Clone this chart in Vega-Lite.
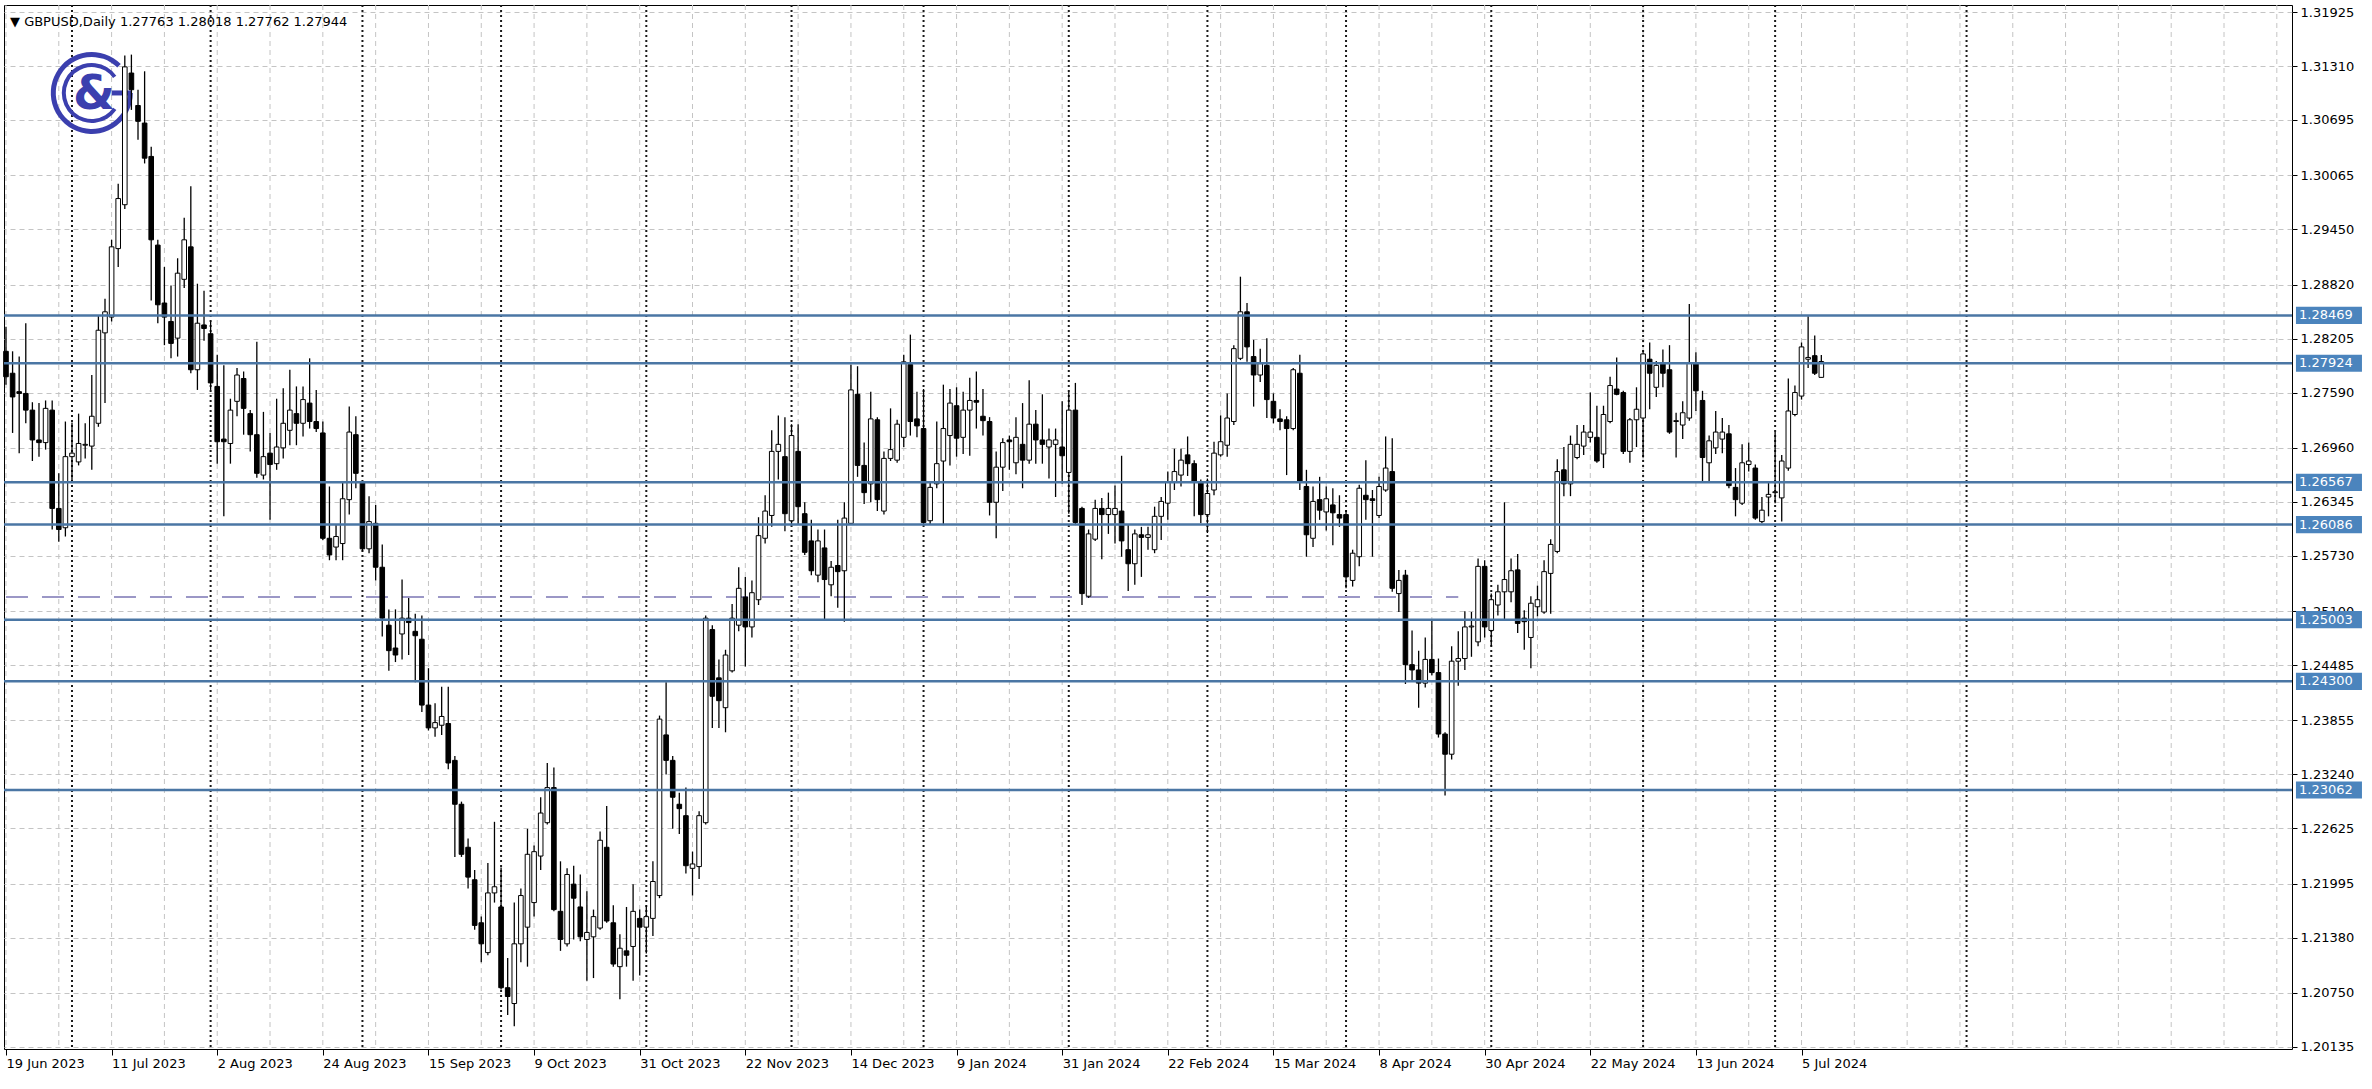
{
  "$schema": "https://vega.github.io/schema/vega-lite/v6.json",
  "width": 2288,
  "height": 1044,
  "autosize": {"type": "none"},
  "padding": {"left": 4, "top": 5, "right": 80, "bottom": 40},
  "background": "#ffffff",
  "config": {
    "view": {"stroke": "#000000", "strokeWidth": 1},
    "font": "DejaVu Sans",
    "axis": {"labelFont": "DejaVu Sans", "labelFontSize": 13, "labelColor": "#000000", "tickColor": "#000000", "domainColor": "#000000"}
  },
  "title": {"text": "▼ GBPUSD,Daily  1.27763 1.28018 1.27762 1.27944", "anchor": "start", "orient": "top", "offset": -35, "dx": 6, "fontSize": 13, "fontWeight": "normal", "font": "DejaVu Sans", "color": "#000000", "baseline": "alphabetic", "frame": "group"},
  "resolve": {"axis": {"x": "independent", "y": "independent"}},
  "datasets": {
    "levels": [{"p": 1.28469}, {"p": 1.27924}, {"p": 1.26567}, {"p": 1.26086}, {"p": 1.25003}, {"p": 1.243}, {"p": 1.23062}],
    "dash": [{"d0": "2023-06-19", "d1": "2024-04-24", "p": 1.2526}],
    "logo": [{"d": "2023-07-06", "p": 1.31003, "g0": "2023-07-11", "g1": "2023-07-14", "t": "&"}],
    "seps": [{"d": "2023-07-03"}, {"d": "2023-08-01"}, {"d": "2023-09-01"}, {"d": "2023-10-02"}, {"d": "2023-11-01"}, {"d": "2023-12-01"}, {"d": "2024-01-02"}, {"d": "2024-02-01"}, {"d": "2024-03-01"}, {"d": "2024-04-01"}, {"d": "2024-05-01"}, {"d": "2024-06-03"}, {"d": "2024-07-01"}, {"d": "2024-08-09"}],
    "vgrid": [{"d": "2023-06-19"}, {"d": "2023-06-29"}, {"d": "2023-07-11"}, {"d": "2023-07-21"}, {"d": "2023-08-02"}, {"d": "2023-08-14"}, {"d": "2023-08-24"}, {"d": "2023-09-05"}, {"d": "2023-09-15"}, {"d": "2023-09-27"}, {"d": "2023-10-09"}, {"d": "2023-10-19"}, {"d": "2023-10-31"}, {"d": "2023-11-10"}, {"d": "2023-11-22"}, {"d": "2023-12-04"}, {"d": "2023-12-14"}, {"d": "2023-12-27"}, {"d": "2024-01-09"}, {"d": "2024-01-19"}, {"d": "2024-01-31"}, {"d": "2024-02-12"}, {"d": "2024-02-22"}, {"d": "2024-03-05"}, {"d": "2024-03-15"}, {"d": "2024-03-27"}, {"d": "2024-04-08"}, {"d": "2024-04-18"}, {"d": "2024-04-30"}, {"d": "2024-05-10"}, {"d": "2024-05-22"}, {"d": "2024-06-03"}, {"d": "2024-06-13"}, {"d": "2024-06-25"}, {"d": "2024-07-05"}, {"d": "2024-07-17"}, {"d": "2024-07-29"}, {"d": "2024-08-08"}, {"d": "2024-08-20"}, {"d": "2024-08-30"}, {"d": "2024-09-11"}, {"d": "2024-09-23"}, {"d": "2024-10-03"}, {"d": "2024-10-15"}],
    "ohlc": [
      {"d":"2023-06-19","o":1.2806,"h":1.2834,"l":1.2768,"c":1.2777},
      {"d":"2023-06-20","o":1.2781,"h":1.2806,"l":1.2713,"c":1.2754},
      {"d":"2023-06-21","o":1.2760,"h":1.2800,"l":1.2690,"c":1.2758},
      {"d":"2023-06-22","o":1.2758,"h":1.2838,"l":1.2724,"c":1.2739},
      {"d":"2023-06-23","o":1.2739,"h":1.2748,"l":1.2681,"c":1.2705},
      {"d":"2023-06-26","o":1.2705,"h":1.2747,"l":1.2686,"c":1.2702},
      {"d":"2023-06-27","o":1.2702,"h":1.2750,"l":1.2694,"c":1.2741},
      {"d":"2023-06-28","o":1.2739,"h":1.2750,"l":1.2603,"c":1.2627},
      {"d":"2023-06-29","o":1.2627,"h":1.2667,"l":1.2589,"c":1.2603},
      {"d":"2023-06-30","o":1.2605,"h":1.2726,"l":1.2595,"c":1.2686},
      {"d":"2023-07-03","o":1.2686,"h":1.2725,"l":1.2656,"c":1.2690},
      {"d":"2023-07-04","o":1.2680,"h":1.2735,"l":1.2676,"c":1.2701},
      {"d":"2023-07-05","o":1.2699,"h":1.2724,"l":1.2684,"c":1.2700},
      {"d":"2023-07-06","o":1.2698,"h":1.2779,"l":1.2671,"c":1.2732},
      {"d":"2023-07-07","o":1.2724,"h":1.2847,"l":1.2720,"c":1.2830},
      {"d":"2023-07-10","o":1.2827,"h":1.2866,"l":1.2747,"c":1.2851},
      {"d":"2023-07-11","o":1.2845,"h":1.2933,"l":1.2840,"c":1.2925},
      {"d":"2023-07-12","o":1.2923,"h":1.2997,"l":1.2902,"c":1.2980},
      {"d":"2023-07-13","o":1.2973,"h":1.3143,"l":1.2968,"c":1.3130},
      {"d":"2023-07-14","o":1.3123,"h":1.3144,"l":1.3081,"c":1.3104},
      {"d":"2023-07-17","o":1.3086,"h":1.3104,"l":1.3047,"c":1.3068},
      {"d":"2023-07-18","o":1.3066,"h":1.3125,"l":1.3020,"c":1.3026},
      {"d":"2023-07-19","o":1.3028,"h":1.3039,"l":1.2864,"c":1.2933},
      {"d":"2023-07-20","o":1.2927,"h":1.2933,"l":1.2838,"c":1.2859},
      {"d":"2023-07-21","o":1.2861,"h":1.2902,"l":1.2813,"c":1.2845},
      {"d":"2023-07-24","o":1.2840,"h":1.2881,"l":1.2798,"c":1.2815},
      {"d":"2023-07-25","o":1.2821,"h":1.2912,"l":1.2800,"c":1.2895},
      {"d":"2023-07-26","o":1.2888,"h":1.2958,"l":1.2878,"c":1.2933},
      {"d":"2023-07-27","o":1.2925,"h":1.2994,"l":1.2781,"c":1.2785},
      {"d":"2023-07-28","o":1.2785,"h":1.2883,"l":1.2762,"c":1.2838},
      {"d":"2023-07-31","o":1.2836,"h":1.2875,"l":1.2818,"c":1.2832},
      {"d":"2023-08-01","o":1.2826,"h":1.2840,"l":1.2762,"c":1.2770},
      {"d":"2023-08-02","o":1.2766,"h":1.2802,"l":1.2678,"c":1.2703},
      {"d":"2023-08-03","o":1.2706,"h":1.2790,"l":1.2618,"c":1.2703},
      {"d":"2023-08-04","o":1.2701,"h":1.2752,"l":1.2678,"c":1.2739},
      {"d":"2023-08-07","o":1.2749,"h":1.2787,"l":1.2732,"c":1.2779},
      {"d":"2023-08-08","o":1.2775,"h":1.2783,"l":1.2711,"c":1.2741},
      {"d":"2023-08-09","o":1.2735,"h":1.2739,"l":1.2692,"c":1.2711},
      {"d":"2023-08-10","o":1.2711,"h":1.2817,"l":1.2662,"c":1.2667},
      {"d":"2023-08-11","o":1.2665,"h":1.2737,"l":1.2660,"c":1.2686},
      {"d":"2023-08-14","o":1.2690,"h":1.2713,"l":1.2614,"c":1.2677},
      {"d":"2023-08-15","o":1.2678,"h":1.2752,"l":1.2671,"c":1.2697},
      {"d":"2023-08-16","o":1.2696,"h":1.2764,"l":1.2684,"c":1.2724},
      {"d":"2023-08-17","o":1.2716,"h":1.2785,"l":1.2699,"c":1.2739},
      {"d":"2023-08-18","o":1.2735,"h":1.2766,"l":1.2699,"c":1.2724},
      {"d":"2023-08-21","o":1.2724,"h":1.2766,"l":1.2709,"c":1.2751},
      {"d":"2023-08-22","o":1.2747,"h":1.2798,"l":1.2718,"c":1.2726},
      {"d":"2023-08-23","o":1.2726,"h":1.2762,"l":1.2714,"c":1.2718},
      {"d":"2023-08-24","o":1.2713,"h":1.2726,"l":1.2591,"c":1.2593},
      {"d":"2023-08-25","o":1.2593,"h":1.2652,"l":1.2568,"c":1.2574},
      {"d":"2023-08-28","o":1.2583,"h":1.2608,"l":1.2568,"c":1.2595},
      {"d":"2023-08-29","o":1.2587,"h":1.2656,"l":1.2568,"c":1.2638},
      {"d":"2023-08-30","o":1.2637,"h":1.2743,"l":1.2620,"c":1.2714},
      {"d":"2023-08-31","o":1.2711,"h":1.2732,"l":1.2650,"c":1.2667},
      {"d":"2023-09-01","o":1.2656,"h":1.2658,"l":1.2578,"c":1.2581},
      {"d":"2023-09-04","o":1.2581,"h":1.2641,"l":1.2576,"c":1.2612},
      {"d":"2023-09-05","o":1.2610,"h":1.2631,"l":1.2545,"c":1.2560},
      {"d":"2023-09-06","o":1.2560,"h":1.2586,"l":1.2481,"c":1.2502},
      {"d":"2023-09-07","o":1.2494,"h":1.2512,"l":1.2442,"c":1.2465},
      {"d":"2023-09-08","o":1.2468,"h":1.2512,"l":1.2452,"c":1.2460},
      {"d":"2023-09-11","o":1.2484,"h":1.2546,"l":1.2455,"c":1.2502},
      {"d":"2023-09-12","o":1.2502,"h":1.2525,"l":1.2460,"c":1.2497},
      {"d":"2023-09-13","o":1.2487,"h":1.2507,"l":1.2429,"c":1.2482},
      {"d":"2023-09-14","o":1.2478,"h":1.2505,"l":1.2395,"c":1.2403},
      {"d":"2023-09-15","o":1.2403,"h":1.2445,"l":1.2374,"c":1.2377},
      {"d":"2023-09-18","o":1.2377,"h":1.2405,"l":1.2367,"c":1.2383},
      {"d":"2023-09-19","o":1.2380,"h":1.2424,"l":1.2369,"c":1.2390},
      {"d":"2023-09-20","o":1.2382,"h":1.2424,"l":1.2330,"c":1.2337},
      {"d":"2023-09-21","o":1.2340,"h":1.2345,"l":1.2230,"c":1.2290},
      {"d":"2023-09-22","o":1.2290,"h":1.2293,"l":1.2230,"c":1.2233},
      {"d":"2023-09-25","o":1.2241,"h":1.2251,"l":1.2194,"c":1.2207},
      {"d":"2023-09-26","o":1.2204,"h":1.2215,"l":1.2147,"c":1.2152},
      {"d":"2023-09-27","o":1.2155,"h":1.2162,"l":1.2110,"c":1.2131},
      {"d":"2023-09-28","o":1.2121,"h":1.2223,"l":1.2118,"c":1.2189},
      {"d":"2023-09-29","o":1.2189,"h":1.2270,"l":1.2178,"c":1.2196},
      {"d":"2023-10-02","o":1.2173,"h":1.2218,"l":1.2079,"c":1.2081},
      {"d":"2023-10-03","o":1.2081,"h":1.2115,"l":1.2050,"c":1.2071},
      {"d":"2023-10-04","o":1.2063,"h":1.2178,"l":1.2037,"c":1.2131},
      {"d":"2023-10-05","o":1.2131,"h":1.2194,"l":1.2110,"c":1.2186},
      {"d":"2023-10-06","o":1.2150,"h":1.2262,"l":1.2105,"c":1.2233},
      {"d":"2023-10-09","o":1.2178,"h":1.2243,"l":1.2162,"c":1.2236},
      {"d":"2023-10-10","o":1.2231,"h":1.2298,"l":1.2215,"c":1.2280},
      {"d":"2023-10-11","o":1.2269,"h":1.2337,"l":1.2267,"c":1.2309},
      {"d":"2023-10-12","o":1.2309,"h":1.2332,"l":1.2168,"c":1.2170},
      {"d":"2023-10-13","o":1.2168,"h":1.2225,"l":1.2123,"c":1.2136},
      {"d":"2023-10-16","o":1.2131,"h":1.2217,"l":1.2128,"c":1.2210},
      {"d":"2023-10-17","o":1.2199,"h":1.2220,"l":1.2136,"c":1.2183},
      {"d":"2023-10-18","o":1.2173,"h":1.2210,"l":1.2134,"c":1.2139},
      {"d":"2023-10-19","o":1.2136,"h":1.2191,"l":1.2089,"c":1.2144},
      {"d":"2023-10-20","o":1.2139,"h":1.2170,"l":1.2092,"c":1.2162},
      {"d":"2023-10-23","o":1.2149,"h":1.2259,"l":1.2147,"c":1.2249},
      {"d":"2023-10-24","o":1.2241,"h":1.2288,"l":1.2155,"c":1.2157},
      {"d":"2023-10-25","o":1.2155,"h":1.2175,"l":1.2105,"c":1.2108},
      {"d":"2023-10-26","o":1.2105,"h":1.2142,"l":1.2068,"c":1.2126},
      {"d":"2023-10-27","o":1.2123,"h":1.2173,"l":1.2105,"c":1.2118},
      {"d":"2023-10-30","o":1.2128,"h":1.2199,"l":1.2089,"c":1.2168},
      {"d":"2023-10-31","o":1.2160,"h":1.2170,"l":1.2095,"c":1.2150},
      {"d":"2023-11-01","o":1.2150,"h":1.2175,"l":1.2120,"c":1.2162},
      {"d":"2023-11-02","o":1.2160,"h":1.2225,"l":1.2140,"c":1.2202},
      {"d":"2023-11-03","o":1.2186,"h":1.2391,"l":1.2183,"c":1.2387},
      {"d":"2023-11-06","o":1.2369,"h":1.2429,"l":1.2324,"c":1.2340},
      {"d":"2023-11-07","o":1.2340,"h":1.2345,"l":1.2262,"c":1.2298},
      {"d":"2023-11-08","o":1.2290,"h":1.2303,"l":1.2256,"c":1.2285},
      {"d":"2023-11-09","o":1.2277,"h":1.2309,"l":1.2211,"c":1.2220},
      {"d":"2023-11-10","o":1.2217,"h":1.2236,"l":1.2186,"c":1.2222},
      {"d":"2023-11-13","o":1.2219,"h":1.2282,"l":1.2205,"c":1.2277},
      {"d":"2023-11-14","o":1.2269,"h":1.2505,"l":1.2267,"c":1.2502},
      {"d":"2023-11-15","o":1.2489,"h":1.2494,"l":1.2377,"c":1.2413},
      {"d":"2023-11-16","o":1.2434,"h":1.2455,"l":1.2377,"c":1.2408},
      {"d":"2023-11-17","o":1.2400,"h":1.2466,"l":1.2372,"c":1.2460},
      {"d":"2023-11-20","o":1.2442,"h":1.2518,"l":1.2440,"c":1.2502},
      {"d":"2023-11-21","o":1.2494,"h":1.2560,"l":1.2487,"c":1.2536},
      {"d":"2023-11-22","o":1.2526,"h":1.2549,"l":1.2447,"c":1.2492},
      {"d":"2023-11-23","o":1.2492,"h":1.2545,"l":1.2480,"c":1.2531},
      {"d":"2023-11-24","o":1.2523,"h":1.2617,"l":1.2517,"c":1.2596},
      {"d":"2023-11-27","o":1.2593,"h":1.2642,"l":1.2587,"c":1.2624},
      {"d":"2023-11-28","o":1.2619,"h":1.2716,"l":1.2606,"c":1.2692},
      {"d":"2023-11-29","o":1.2692,"h":1.2733,"l":1.2660,"c":1.2700},
      {"d":"2023-11-30","o":1.2686,"h":1.2731,"l":1.2601,"c":1.2621},
      {"d":"2023-12-01","o":1.2613,"h":1.2723,"l":1.2608,"c":1.2710},
      {"d":"2023-12-04","o":1.2692,"h":1.2723,"l":1.2608,"c":1.2629},
      {"d":"2023-12-05","o":1.2621,"h":1.2634,"l":1.2574,"c":1.2577},
      {"d":"2023-12-06","o":1.2590,"h":1.2614,"l":1.2551,"c":1.2556},
      {"d":"2023-12-07","o":1.2551,"h":1.2603,"l":1.2543,"c":1.2590},
      {"d":"2023-12-08","o":1.2582,"h":1.2603,"l":1.2501,"c":1.2546},
      {"d":"2023-12-11","o":1.2540,"h":1.2567,"l":1.2527,"c":1.2560},
      {"d":"2023-12-12","o":1.2562,"h":1.2614,"l":1.2514,"c":1.2555},
      {"d":"2023-12-13","o":1.2556,"h":1.2634,"l":1.2498,"c":1.2616},
      {"d":"2023-12-14","o":1.2610,"h":1.2791,"l":1.2608,"c":1.2762},
      {"d":"2023-12-15","o":1.2757,"h":1.2789,"l":1.2663,"c":1.2676},
      {"d":"2023-12-18","o":1.2676,"h":1.2702,"l":1.2632,"c":1.2645},
      {"d":"2023-12-19","o":1.2655,"h":1.2760,"l":1.2634,"c":1.2729},
      {"d":"2023-12-20","o":1.2728,"h":1.2731,"l":1.2624,"c":1.2637},
      {"d":"2023-12-21","o":1.2624,"h":1.2692,"l":1.2620,"c":1.2684},
      {"d":"2023-12-22","o":1.2684,"h":1.2741,"l":1.2681,"c":1.2694},
      {"d":"2023-12-26","o":1.2682,"h":1.2728,"l":1.2679,"c":1.2723},
      {"d":"2023-12-27","o":1.2708,"h":1.2802,"l":1.2697,"c":1.2794},
      {"d":"2023-12-28","o":1.2791,"h":1.2825,"l":1.2710,"c":1.2726},
      {"d":"2023-12-29","o":1.2729,"h":1.2760,"l":1.2708,"c":1.2721},
      {"d":"2024-01-02","o":1.2718,"h":1.2763,"l":1.2608,"c":1.2611},
      {"d":"2024-01-03","o":1.2613,"h":1.2656,"l":1.2608,"c":1.2651},
      {"d":"2024-01-04","o":1.2655,"h":1.2726,"l":1.2650,"c":1.2678},
      {"d":"2024-01-05","o":1.2681,"h":1.2768,"l":1.2608,"c":1.2718},
      {"d":"2024-01-08","o":1.2710,"h":1.2763,"l":1.2676,"c":1.2747},
      {"d":"2024-01-09","o":1.2744,"h":1.2765,"l":1.2686,"c":1.2707},
      {"d":"2024-01-10","o":1.2708,"h":1.2760,"l":1.2689,"c":1.2739},
      {"d":"2024-01-11","o":1.2739,"h":1.2776,"l":1.2687,"c":1.2750},
      {"d":"2024-01-12","o":1.2750,"h":1.2783,"l":1.2718,"c":1.2748},
      {"d":"2024-01-15","o":1.2732,"h":1.2763,"l":1.2710,"c":1.2727},
      {"d":"2024-01-16","o":1.2726,"h":1.2731,"l":1.2619,"c":1.2634},
      {"d":"2024-01-17","o":1.2634,"h":1.2692,"l":1.2593,"c":1.2674},
      {"d":"2024-01-18","o":1.2674,"h":1.2707,"l":1.2647,"c":1.2702},
      {"d":"2024-01-19","o":1.2705,"h":1.2710,"l":1.2671,"c":1.2703},
      {"d":"2024-01-22","o":1.2679,"h":1.2731,"l":1.2666,"c":1.2708},
      {"d":"2024-01-23","o":1.2700,"h":1.2747,"l":1.2650,"c":1.2682},
      {"d":"2024-01-24","o":1.2682,"h":1.2773,"l":1.2678,"c":1.2723},
      {"d":"2024-01-25","o":1.2723,"h":1.2739,"l":1.2678,"c":1.2705},
      {"d":"2024-01-26","o":1.2705,"h":1.2757,"l":1.2678,"c":1.2700},
      {"d":"2024-01-29","o":1.2697,"h":1.2718,"l":1.2661,"c":1.2705},
      {"d":"2024-01-30","o":1.2700,"h":1.2718,"l":1.2640,"c":1.2705},
      {"d":"2024-01-31","o":1.2697,"h":1.2749,"l":1.2655,"c":1.2687},
      {"d":"2024-02-01","o":1.2668,"h":1.2760,"l":1.2621,"c":1.2739},
      {"d":"2024-02-02","o":1.2739,"h":1.2770,"l":1.2608,"c":1.2611},
      {"d":"2024-02-05","o":1.2627,"h":1.2629,"l":1.2517,"c":1.2530},
      {"d":"2024-02-06","o":1.2527,"h":1.2603,"l":1.2525,"c":1.2598},
      {"d":"2024-02-07","o":1.2592,"h":1.2637,"l":1.2590,"c":1.2627},
      {"d":"2024-02-08","o":1.2627,"h":1.2639,"l":1.2569,"c":1.2620},
      {"d":"2024-02-09","o":1.2620,"h":1.2645,"l":1.2598,"c":1.2627},
      {"d":"2024-02-12","o":1.2620,"h":1.2653,"l":1.2587,"c":1.2627},
      {"d":"2024-02-13","o":1.2624,"h":1.2687,"l":1.2572,"c":1.2590},
      {"d":"2024-02-14","o":1.2580,"h":1.2608,"l":1.2533,"c":1.2564},
      {"d":"2024-02-15","o":1.2564,"h":1.2603,"l":1.2540,"c":1.2598},
      {"d":"2024-02-16","o":1.2597,"h":1.2606,"l":1.2549,"c":1.2594},
      {"d":"2024-02-19","o":1.2594,"h":1.2606,"l":1.2580,"c":1.2597},
      {"d":"2024-02-20","o":1.2580,"h":1.2629,"l":1.2576,"c":1.2618},
      {"d":"2024-02-21","o":1.2618,"h":1.2640,"l":1.2591,"c":1.2635},
      {"d":"2024-02-22","o":1.2633,"h":1.2669,"l":1.2614,"c":1.2657},
      {"d":"2024-02-23","o":1.2657,"h":1.2695,"l":1.2648,"c":1.2669},
      {"d":"2024-02-26","o":1.2665,"h":1.2695,"l":1.2652,"c":1.2682},
      {"d":"2024-02-27","o":1.2688,"h":1.2709,"l":1.2664,"c":1.2678},
      {"d":"2024-02-28","o":1.2678,"h":1.2682,"l":1.2618,"c":1.2658},
      {"d":"2024-02-29","o":1.2656,"h":1.2660,"l":1.2610,"c":1.2620},
      {"d":"2024-03-01","o":1.2620,"h":1.2661,"l":1.2599,"c":1.2644},
      {"d":"2024-03-04","o":1.2648,"h":1.2703,"l":1.2642,"c":1.2690},
      {"d":"2024-03-05","o":1.2688,"h":1.2733,"l":1.2686,"c":1.2703},
      {"d":"2024-03-06","o":1.2699,"h":1.2758,"l":1.2686,"c":1.2730},
      {"d":"2024-03-07","o":1.2726,"h":1.2813,"l":1.2722,"c":1.2809},
      {"d":"2024-03-08","o":1.2798,"h":1.2891,"l":1.2796,"c":1.2851},
      {"d":"2024-03-11","o":1.2851,"h":1.2861,"l":1.2794,"c":1.2811},
      {"d":"2024-03-12","o":1.2800,"h":1.2819,"l":1.2743,"c":1.2779},
      {"d":"2024-03-13","o":1.2779,"h":1.2809,"l":1.2771,"c":1.2792},
      {"d":"2024-03-14","o":1.2790,"h":1.2821,"l":1.2730,"c":1.2751},
      {"d":"2024-03-15","o":1.2749,"h":1.2758,"l":1.2724,"c":1.2730},
      {"d":"2024-03-18","o":1.2729,"h":1.2740,"l":1.2716,"c":1.2726},
      {"d":"2024-03-19","o":1.2728,"h":1.2732,"l":1.2665,"c":1.2718},
      {"d":"2024-03-20","o":1.2718,"h":1.2787,"l":1.2716,"c":1.2785},
      {"d":"2024-03-21","o":1.2781,"h":1.2802,"l":1.2648,"c":1.2658},
      {"d":"2024-03-22","o":1.2652,"h":1.2671,"l":1.2572,"c":1.2597},
      {"d":"2024-03-25","o":1.2593,"h":1.2652,"l":1.2583,"c":1.2635},
      {"d":"2024-03-26","o":1.2637,"h":1.2663,"l":1.2614,"c":1.2625},
      {"d":"2024-03-27","o":1.2623,"h":1.2652,"l":1.2602,"c":1.2638},
      {"d":"2024-03-28","o":1.2631,"h":1.2650,"l":1.2585,"c":1.2622},
      {"d":"2024-03-29","o":1.2620,"h":1.2642,"l":1.2606,"c":1.2616},
      {"d":"2024-04-01","o":1.2620,"h":1.2625,"l":1.2536,"c":1.2549},
      {"d":"2024-04-02","o":1.2545,"h":1.2580,"l":1.2538,"c":1.2576},
      {"d":"2024-04-03","o":1.2572,"h":1.2654,"l":1.2561,"c":1.2650},
      {"d":"2024-04-04","o":1.2642,"h":1.2682,"l":1.2614,"c":1.2637},
      {"d":"2024-04-05","o":1.2638,"h":1.2648,"l":1.2572,"c":1.2636},
      {"d":"2024-04-08","o":1.2619,"h":1.2663,"l":1.2616,"c":1.2652},
      {"d":"2024-04-09","o":1.2648,"h":1.2709,"l":1.2646,"c":1.2673},
      {"d":"2024-04-10","o":1.2669,"h":1.2707,"l":1.2532,"c":1.2536},
      {"d":"2024-04-11","o":1.2530,"h":1.2557,"l":1.2509,"c":1.2545},
      {"d":"2024-04-12","o":1.2551,"h":1.2557,"l":1.2427,"c":1.2449},
      {"d":"2024-04-15","o":1.2449,"h":1.2488,"l":1.2430,"c":1.2443},
      {"d":"2024-04-16","o":1.2443,"h":1.2465,"l":1.2400,"c":1.2428},
      {"d":"2024-04-17","o":1.2428,"h":1.2480,"l":1.2423,"c":1.2455},
      {"d":"2024-04-18","o":1.2455,"h":1.2500,"l":1.2437,"c":1.2440},
      {"d":"2024-04-19","o":1.2440,"h":1.2456,"l":1.2366,"c":1.2370},
      {"d":"2024-04-22","o":1.2370,"h":1.2372,"l":1.2300,"c":1.2347},
      {"d":"2024-04-23","o":1.2347,"h":1.2470,"l":1.2341,"c":1.2453},
      {"d":"2024-04-24","o":1.2453,"h":1.2487,"l":1.2425,"c":1.2456},
      {"d":"2024-04-25","o":1.2456,"h":1.2510,"l":1.2443,"c":1.2492},
      {"d":"2024-04-26","o":1.2492,"h":1.2509,"l":1.2458,"c":1.2493},
      {"d":"2024-04-29","o":1.2475,"h":1.2570,"l":1.2470,"c":1.2561},
      {"d":"2024-04-30","o":1.2561,"h":1.2568,"l":1.2480,"c":1.2492},
      {"d":"2024-05-01","o":1.2488,"h":1.2530,"l":1.2470,"c":1.2523},
      {"d":"2024-05-02","o":1.2517,"h":1.2540,"l":1.2505,"c":1.2532},
      {"d":"2024-05-03","o":1.2532,"h":1.2634,"l":1.2500,"c":1.2546},
      {"d":"2024-05-06","o":1.2532,"h":1.2570,"l":1.2520,"c":1.2556},
      {"d":"2024-05-07","o":1.2557,"h":1.2575,"l":1.2485,"c":1.2496},
      {"d":"2024-05-08","o":1.2502,"h":1.2511,"l":1.2466,"c":1.2498},
      {"d":"2024-05-09","o":1.2480,"h":1.2527,"l":1.2445,"c":1.2519},
      {"d":"2024-05-10","o":1.2515,"h":1.2539,"l":1.2504,"c":1.2523},
      {"d":"2024-05-13","o":1.2509,"h":1.2568,"l":1.2507,"c":1.2555},
      {"d":"2024-05-14","o":1.2553,"h":1.2592,"l":1.2507,"c":1.2586},
      {"d":"2024-05-15","o":1.2578,"h":1.2683,"l":1.2576,"c":1.2669},
      {"d":"2024-05-16","o":1.2671,"h":1.2697,"l":1.2641,"c":1.2655},
      {"d":"2024-05-17","o":1.2655,"h":1.2710,"l":1.2641,"c":1.2700},
      {"d":"2024-05-20","o":1.2685,"h":1.2722,"l":1.2683,"c":1.2700},
      {"d":"2024-05-21","o":1.2698,"h":1.2722,"l":1.2688,"c":1.2714},
      {"d":"2024-05-22","o":1.2708,"h":1.2759,"l":1.2702,"c":1.2714},
      {"d":"2024-05-23","o":1.2708,"h":1.2744,"l":1.2679,"c":1.2681},
      {"d":"2024-05-24","o":1.2689,"h":1.2744,"l":1.2673,"c":1.2734},
      {"d":"2024-05-27","o":1.2726,"h":1.2777,"l":1.2724,"c":1.2767},
      {"d":"2024-05-28","o":1.2763,"h":1.2799,"l":1.2756,"c":1.2757},
      {"d":"2024-05-29","o":1.2759,"h":1.2761,"l":1.2689,"c":1.2692},
      {"d":"2024-05-30","o":1.2692,"h":1.2730,"l":1.2679,"c":1.2728},
      {"d":"2024-05-31","o":1.2728,"h":1.2765,"l":1.2697,"c":1.2740},
      {"d":"2024-06-03","o":1.2730,"h":1.2807,"l":1.2685,"c":1.2803},
      {"d":"2024-06-04","o":1.2797,"h":1.2816,"l":1.2740,"c":1.2781},
      {"d":"2024-06-05","o":1.2765,"h":1.2795,"l":1.2754,"c":1.2790},
      {"d":"2024-06-06","o":1.2793,"h":1.2808,"l":1.2765,"c":1.2781},
      {"d":"2024-06-07","o":1.2785,"h":1.2813,"l":1.2712,"c":1.2714},
      {"d":"2024-06-10","o":1.2726,"h":1.2736,"l":1.2685,"c":1.2727},
      {"d":"2024-06-11","o":1.2722,"h":1.2749,"l":1.2706,"c":1.2736},
      {"d":"2024-06-12","o":1.2730,"h":1.2860,"l":1.2727,"c":1.2793},
      {"d":"2024-06-13","o":1.2793,"h":1.2805,"l":1.2738,"c":1.2761},
      {"d":"2024-06-14","o":1.2750,"h":1.2761,"l":1.2657,"c":1.2685},
      {"d":"2024-06-17","o":1.2679,"h":1.2710,"l":1.2657,"c":1.2704},
      {"d":"2024-06-18","o":1.2696,"h":1.2738,"l":1.2689,"c":1.2714},
      {"d":"2024-06-19","o":1.2706,"h":1.2730,"l":1.2690,"c":1.2714},
      {"d":"2024-06-20","o":1.2712,"h":1.2722,"l":1.2650,"c":1.2653},
      {"d":"2024-06-21","o":1.2651,"h":1.2673,"l":1.2618,"c":1.2637},
      {"d":"2024-06-24","o":1.2633,"h":1.2700,"l":1.2631,"c":1.2679},
      {"d":"2024-06-25","o":1.2677,"h":1.2702,"l":1.2669,"c":1.2681},
      {"d":"2024-06-26","o":1.2673,"h":1.2677,"l":1.2614,"c":1.2616},
      {"d":"2024-06-27","o":1.2612,"h":1.2640,"l":1.2610,"c":1.2625},
      {"d":"2024-06-28","o":1.2640,"h":1.2657,"l":1.2618,"c":1.2643},
      {"d":"2024-07-01","o":1.2645,"h":1.2714,"l":1.2633,"c":1.2646},
      {"d":"2024-07-02","o":1.2639,"h":1.2688,"l":1.2612,"c":1.2681},
      {"d":"2024-07-03","o":1.2673,"h":1.2775,"l":1.2670,"c":1.2738},
      {"d":"2024-07-04","o":1.2734,"h":1.2767,"l":1.2732,"c":1.2759},
      {"d":"2024-07-05","o":1.2755,"h":1.2816,"l":1.2751,"c":1.2811},
      {"d":"2024-07-08","o":1.2797,"h":1.2846,"l":1.2787,"c":1.2799},
      {"d":"2024-07-09","o":1.2801,"h":1.2824,"l":1.2779,"c":1.2781},
      {"d":"2024-07-10","o":1.27763,"h":1.28018,"l":1.27762,"c":1.27944}
    ]
  },
  "layer": [
    {
      "data": {"name": "vgrid"},
      "mark": {"type": "rule", "color": "#c4c4c4", "strokeWidth": 1, "strokeDash": [5, 4]},
      "encoding": {"x": {"field": "d", "type": "ordinal", "axis": null}}
    },
    {
      "data": {"name": "seps"},
      "mark": {"type": "rule", "color": "#1a1a1a", "strokeWidth": 2, "strokeDash": [2, 3]},
      "encoding": {"x": {"field": "d", "type": "ordinal", "axis": null}}
    },
    {
      "data": {"name": "logo"},
      "mark": {"type": "arc", "radius": 41, "radius2": 36, "theta": 1.5708, "theta2": 7.0686, "color": "#3b3fae"},
      "encoding": {"x": {"field": "d", "type": "ordinal", "axis": null}, "y": {"field": "p", "type": "quantitative", "axis": null}}
    },
    {
      "data": {"name": "logo"},
      "mark": {"type": "arc", "radius": 30, "radius2": 26, "theta": 2.18, "theta2": 7.24, "color": "#3b3fae"},
      "encoding": {"x": {"field": "d", "type": "ordinal", "axis": null}, "y": {"field": "p", "type": "quantitative", "axis": null}}
    },
    {
      "data": {"name": "logo"},
      "mark": {"type": "text", "fontSize": 48, "fontWeight": "bold", "color": "#3b3fae", "align": "center", "baseline": "middle", "dx": 2, "dy": 2, "font": "DejaVu Sans"},
      "encoding": {"x": {"field": "d", "type": "ordinal", "axis": null}, "y": {"field": "p", "type": "quantitative", "axis": null}, "text": {"field": "t"}}
    },
    {
      "data": {"name": "logo"},
      "mark": {"type": "rule", "color": "#3b3fae", "strokeWidth": 5},
      "encoding": {"x": {"field": "g0", "type": "ordinal", "axis": null}, "x2": {"field": "g1"}, "y": {"field": "p", "type": "quantitative", "axis": null}}
    },
    {
      "data": {"name": "dash"},
      "mark": {"type": "rule", "color": "#9b97c6", "strokeWidth": 2, "strokeDash": [22, 14]},
      "encoding": {"x": {"field": "d0", "type": "ordinal", "axis": null}, "x2": {"field": "d1"}, "y": {"field": "p", "type": "quantitative", "axis": null}}
    },
    {
      "data": {"name": "ohlc"},
      "mark": {"type": "rule", "color": "#000000", "strokeWidth": 1.3},
      "encoding": {"x": {"field": "d", "type": "ordinal", "axis": null}, "y": {"field": "l", "type": "quantitative", "axis": null}, "y2": {"field": "h"}}
    },
    {
      "data": {"name": "ohlc"},
      "mark": {"type": "bar", "width": 4.6, "stroke": "#000000", "strokeWidth": 1},
      "encoding": {
        "x": {
          "field": "d", "type": "ordinal",
          "scale": {"type": "point", "padding": 0.3, "domain": {"unionWith": ["2024-07-11","2024-07-12","2024-07-15","2024-07-16","2024-07-17","2024-07-18","2024-07-19","2024-07-22","2024-07-23","2024-07-24","2024-07-25","2024-07-26","2024-07-29","2024-07-30","2024-07-31","2024-08-01","2024-08-02","2024-08-05","2024-08-06","2024-08-07","2024-08-08","2024-08-09","2024-08-12","2024-08-13","2024-08-14","2024-08-15","2024-08-16","2024-08-19","2024-08-20","2024-08-21","2024-08-22","2024-08-23","2024-08-26","2024-08-27","2024-08-28","2024-08-29","2024-08-30","2024-09-02","2024-09-03","2024-09-04","2024-09-05","2024-09-06","2024-09-09","2024-09-10","2024-09-11","2024-09-12","2024-09-13","2024-09-16","2024-09-17","2024-09-18","2024-09-19","2024-09-20","2024-09-23","2024-09-24","2024-09-25","2024-09-26","2024-09-27","2024-09-30","2024-10-01","2024-10-02","2024-10-03","2024-10-04","2024-10-07","2024-10-08","2024-10-09","2024-10-10","2024-10-11","2024-10-14","2024-10-15","2024-10-16","2024-10-17"]}},
          "axis": {"values": ["2023-06-19","2023-07-11","2023-08-02","2023-08-24","2023-09-15","2023-10-09","2023-10-31","2023-11-22","2023-12-14","2024-01-09","2024-01-31","2024-02-22","2024-03-15","2024-04-08","2024-04-30","2024-05-22","2024-06-13","2024-07-05"], "labelExpr": "utcFormat(toDate(datum.value), '%-d %b %Y')", "labelAlign": "left", "labelAngle": 0, "labelBaseline": "top", "tickSize": 6, "labelPadding": 2, "grid": false, "title": null, "labelOverlap": false, "labelFlush": false, "domain": false}
        },
        "y": {
          "field": "o", "type": "quantitative",
          "scale": {"domain": [1.20112, 1.32005], "nice": false, "zero": false},
          "axis": {"orient": "right", "values": [1.20135, 1.2075, 1.2138, 1.21995, 1.22625, 1.2324, 1.23855, 1.24485, 1.251, 1.2573, 1.26345, 1.2696, 1.2759, 1.28205, 1.2882, 1.2945, 1.30065, 1.30695, 1.3131, 1.31925], "format": ".5f", "grid": true, "gridColor": "#c4c4c4", "gridDash": [5, 4], "gridWidth": 1, "tickSize": 5, "labelPadding": 3, "title": null, "domain": false, "labelOverlap": false, "labelFlush": false}
        },
        "y2": {"field": "c"},
        "fill": {"condition": {"test": "datum.c >= datum.o", "value": "#ffffff"}, "value": "#000000"}
      }
    },
    {
      "data": {"name": "levels"},
      "mark": {"type": "rule", "color": "#4a76a4", "strokeWidth": 2.5},
      "encoding": {"y": {"field": "p", "type": "quantitative", "axis": null}}
    },
    {
      "data": {"name": "levels"},
      "mark": {"type": "point", "shape": "M0.12,-0.26H2.12V0.26H0.12Z", "size": 4356, "filled": true, "color": "#4b84bd", "opacity": 1, "strokeWidth": 0},
      "encoding": {"x": {"value": "width"}, "y": {"field": "p", "type": "quantitative", "axis": null}}
    },
    {
      "data": {"name": "levels"},
      "mark": {"type": "text", "color": "#ffffff", "fontSize": 13, "align": "left", "baseline": "middle", "dx": 7, "font": "DejaVu Sans"},
      "encoding": {"x": {"value": "width"}, "y": {"field": "p", "type": "quantitative", "axis": null}, "text": {"field": "p", "type": "quantitative", "format": ".5f"}}
    }
  ]
}
